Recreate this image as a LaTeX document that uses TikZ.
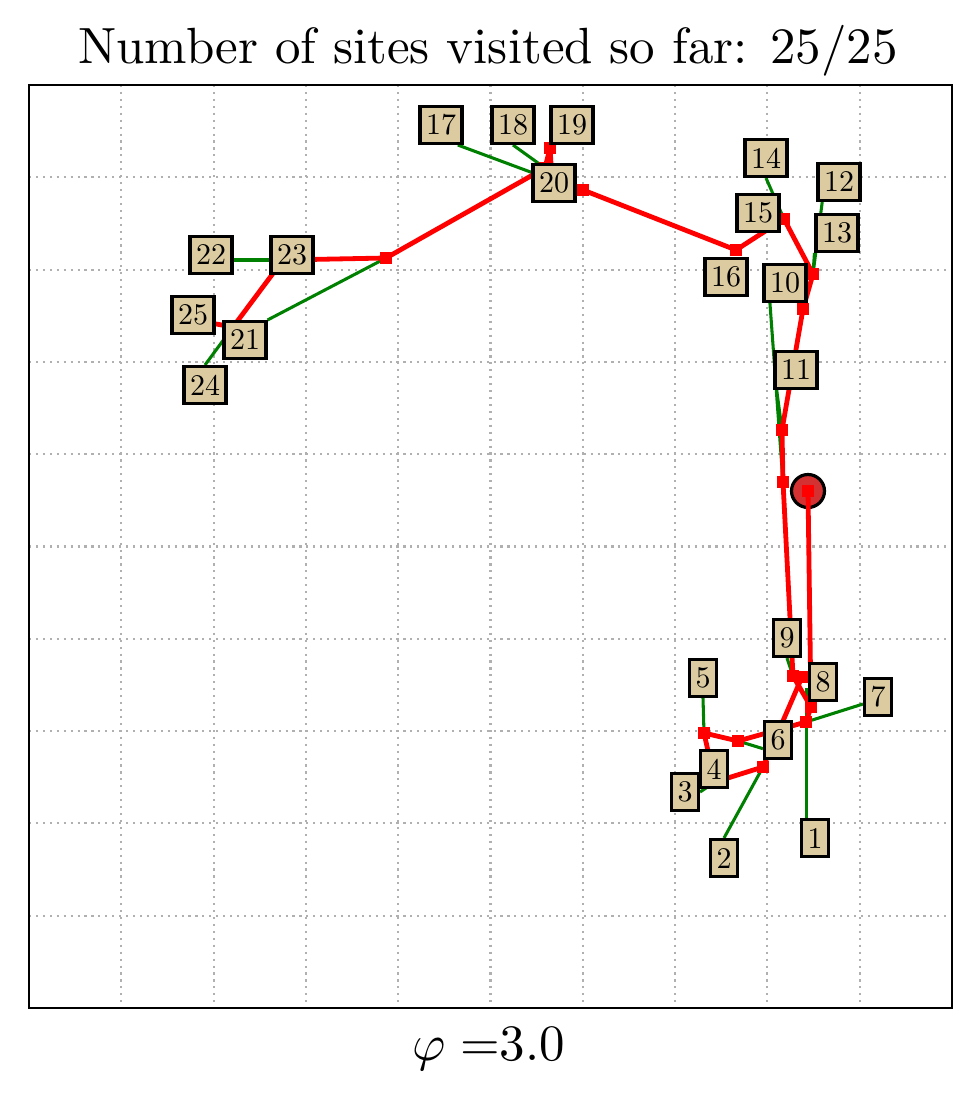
\documentclass[tikz,border=0pt]{standalone}
\usepackage{graphicx}
\usetikzlibrary{calc}
\pgfdeclarelayer{bg}
\pgfsetlayers{bg,main}
\definecolor{boxfill}{RGB}{220,203,160}
\definecolor{gridgray}{RGB}{176,176,176}
\definecolor{mgreen}{RGB}{0,128,0}
\definecolor{circred}{RGB}{212,50,50}
\newcommand\lbltxt[1]{\scalebox{2.25}{#1}}
\newcommand\bigtxt[1]{\scalebox{3.82}{#1}}
\tikzset{
  site/.style={draw=black, line width=2.5pt, fill=boxfill, rectangle,
    inner xsep=4.4pt, inner ysep=0pt, minimum height=27.5pt,
    font=\fontsize{10}{12}\selectfont},
  gridline/.style={draw=gridgray, line width=1.6pt, dash pattern=on 1.6pt off 3.6pt},
  redpath/.style={draw=red, line width=3.6pt, line join=round},
  greenline/.style={draw=mgreen, line width=2.3pt},
  frameline/.style={draw=black, line width=2pt},
  bigtext/.style={font=\fontsize{10}{12}\selectfont, inner sep=0pt}
}
\begin{document}
\begin{tikzpicture}[x=0.75pt, y=-0.75pt]
\useasboundingbox (0,0) rectangle (980,1093);

% path vertices
\coordinate (wC) at (808,491);
\coordinate (wa) at (811,707);
\coordinate (wb) at (806,722);
\coordinate (wc) at (738,741);
\coordinate (wd) at (704,733);
\coordinate (we) at (715,782);
\coordinate (wf) at (763,767);
\coordinate (wg) at (802,677);
\coordinate (wh) at (793,676);
\coordinate (wi) at (783,482);
\coordinate (wj) at (782,430);
\coordinate (wk) at (803,309);
\coordinate (wl) at (813,274);
\coordinate (wm) at (784,219);
\coordinate (wn) at (736,250);
\coordinate (wo) at (583,190);
\coordinate (wz) at (552,180);
\coordinate (wp) at (550,148);
\coordinate (wq) at (545,168);
\coordinate (wr) at (386,258);
\coordinate (ws) at (283,260);
\coordinate (wt) at (233,327);
\coordinate (wu) at (205,322);
\coordinate (s1) at (806.5,688);

% labels
\node[site] (l1) at (815,838) {\lbltxt{1}};
\node[site] (l2) at (724,858) {\lbltxt{2}};
\node[site] (l3) at (685,792) {\lbltxt{3}};
\node[site] (l4) at (714,769) {\lbltxt{4}};
\node[site] (l5) at (703,678) {\lbltxt{5}};
\node[site] (l6) at (778,740) {\lbltxt{6}};
\node[site] (l7) at (878,697) {\lbltxt{7}};
\node[site] (l8) at (823,682) {\lbltxt{8}};
\node[site] (l9) at (787,638) {\lbltxt{9}};
\node[site] (l10) at (785,283) {\lbltxt{10}};
\node[site] (l11) at (796,370) {\lbltxt{11}};
\node[site] (l12) at (839,182) {\lbltxt{12}};
\node[site] (l13) at (837,233) {\lbltxt{13}};
\node[site] (l14) at (766,158) {\lbltxt{14}};
\node[site] (l15) at (758,213) {\lbltxt{15}};
\node[site] (l16) at (726,277) {\lbltxt{16}};
\node[site] (l17) at (441,125) {\lbltxt{17}};
\node[site] (l18) at (513,125) {\lbltxt{18}};
\node[site] (l19) at (572,125) {\lbltxt{19}};
\node[site] (l20) at (554,183) {\lbltxt{20}};
\node[site] (l21) at (245,340) {\lbltxt{21}};
\node[site] (l22) at (211,255) {\lbltxt{22}};
\node[site] (l23) at (292,255) {\lbltxt{23}};
\node[site] (l24) at (205,385) {\lbltxt{24}};
\node[site] (l25) at (193,315) {\lbltxt{25}};

\begin{pgfonlayer}{bg}
  \foreach \k in {1,...,9} {
    \draw[gridline] ({29+92.3*\k},85) -- ({29+92.3*\k},1008);
    \draw[gridline] (29,{85+92.3*\k}) -- (952,{85+92.3*\k});
  }
  \filldraw[fill=circred, draw=black, line width=2.4pt] (wC) circle[radius=16.5];
  % green site links
  \draw[greenline] (l1.north -| s1) -- (s1);
  \draw[greenline] (l2.north) -- (wf);
  \draw[greenline] (l3.east) -- (we);
  \draw[greenline] (l5.south) -- (wd);
  \draw[greenline] (l6.210) -- (wc);
  \draw[greenline] (l7.205) -- (wb);
  \draw[greenline] (l9.south) -- (wh);
  \draw[greenline] (l10.233) -- (wi);
  \draw[greenline] (l11.226) -- (wj);
  \draw[greenline] (l12.230) -- (wl);
  \draw[greenline] (l13.south west) -- (wl);
  \draw[greenline] (l14.south) -- (wm);
  \draw[greenline] (l17.310) -- (wz);
  \draw[greenline] (l18.south) -- (wq);
  \draw[greenline] (l21.north east) -- (wr);
  \draw[greenline] (l22.east |- ws) -- (ws);
  \draw[greenline] (l24.north) -- (wt);
  % red walk
  \draw[redpath] (wC) -- (wa) -- (wb) -- (wc) -- (wd) -- (we) -- (wf) -- (wg) -- (wh)
     -- (wi) -- (wj) -- (wk) -- (wl) -- (wm) -- (wn) -- (wo) -- (wz) -- (wp) -- (wq)
     -- (wr) -- (ws) -- (wt) -- (wu);
  \draw[redpath] (wh) -- (wa);
  \foreach \v in {wC,wa,wb,wc,wd,we,wf,wg,wh,wi,wj,wk,wl,wm,wn,wo,wz,wp,wq,wr,ws,wt,wu}
    \fill[red] ($(\v)+(-6,-6)$) rectangle ($(\v)+(6,6)$);
\end{pgfonlayer}

\draw[frameline] (29,85) rectangle (952,1008);
\node[bigtext, anchor=base] (title) at (488,63) {\bigtxt{Number of sites visited so far: 25/25}};
\node[bigtext, anchor=base] (phi) at (489,1060) {\bigtxt{$\varphi =$3.0}};
\end{tikzpicture}
\end{document}
